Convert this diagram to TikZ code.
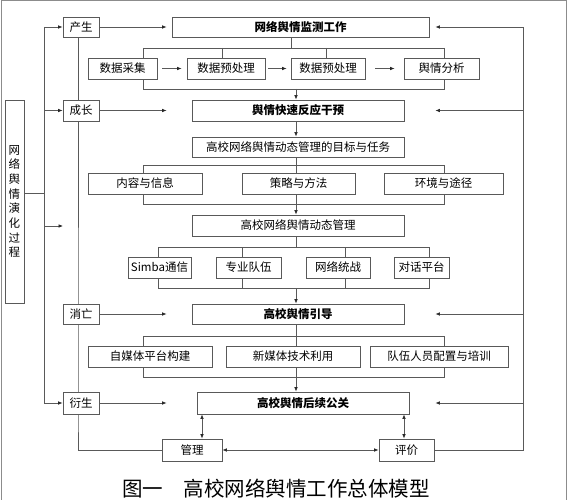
\documentclass[tikz,border=0pt]{standalone}
\usepackage{fontspec}
\setmainfont{Noto Sans CJK SC}
\usetikzlibrary{arrows.meta,backgrounds}
\begin{document}
\begin{tikzpicture}[x=1pt,y=-1pt,
  box/.style={draw=black!65, line width=0.9pt, fill=white, inner sep=0pt, font=\fontsize{11.5}{13}\selectfont},
  bbox/.style={box, font=\fontsize{11.5}{13}\selectfont\bfseries},
  ln/.style={draw=black!65, line width=0.7pt},
  arr/.style={ln, -{Latex[length=4.5pt,width=3.6pt,color=black!85]}},
  darr/.style={ln, {Latex[length=4.5pt,width=3.6pt,color=black!85]}-{Latex[length=4.5pt,width=3.6pt,color=black!85]}},
  frame/.style={draw=black!45, line width=0.8pt}
]
\useasboundingbox (0,0) rectangle (568,500);
% outer frame lines
\coordinate (F1) at (1.5,500);
\coordinate (F2) at (1.5,0.5);
\coordinate (F3) at (566,0.5);
\coordinate (F4) at (566,500);
\draw[frame] (F1) -- (F2) -- (F3) -- (F4);

% left process box
\node[box, minimum width=19pt, minimum height=203pt, align=center,
      font=\fontsize{11.5}{14.7}\selectfont] (lb) at (14.5,201.5)
  {网\\络\\舆\\情\\演\\化\\过\\程};

% stage boxes
\node[box, minimum width=36pt, minimum height=20pt] (chan) at (81,27) {产生};
\node[box, minimum width=36pt, minimum height=21pt] (cz) at (81,110.5) {成长};
\node[box, minimum width=36pt, minimum height=20pt] (xw) at (81,314) {消亡};
\node[box, minimum width=36pt, minimum height=22pt] (ys) at (81,403) {衍生};

% main boxes
\node[bbox, minimum width=257pt, minimum height=20pt] (jc) at (300.5,27) {网络舆情监测工作};
\node[box, minimum width=69pt, minimum height=21pt] (s1) at (122.5,68.5) {数据采集};
\node[box, minimum width=78pt, minimum height=21pt] (s2) at (226,68.5) {数据预处理};
\node[box, minimum width=74pt, minimum height=21pt] (s3) at (328,68.5) {数据预处理};
\node[box, minimum width=75pt, minimum height=21pt] (s4) at (441.5,68.5) {舆情分析};

\node[bbox, minimum width=212pt, minimum height=21pt] (ks) at (298,110.5) {舆情快速反应干预};
\node[box, minimum width=212pt, minimum height=20pt] (mb) at (298,147) {高校网络舆情动态管理的目标与任务};
\node[box, minimum width=114pt, minimum height=21pt] (n1) at (145,183.5) {内容与信息};
\node[box, minimum width=113pt, minimum height=21pt] (n2) at (298.5,183.5) {策略与方法};
\node[box, minimum width=119pt, minimum height=21pt] (n3) at (443.5,183.5) {环境与途径};

\node[box, minimum width=212pt, minimum height=21pt] (dt) at (298,225.5) {高校网络舆情动态管理};
\node[box, minimum width=63pt, minimum height=21pt] (m1) at (159.5,267.5) {Simba通信};
\node[box, minimum width=65pt, minimum height=21pt] (m2) at (248.5,267.5) {专业队伍};
\node[box, minimum width=64pt, minimum height=21pt] (m3) at (338,267.5) {网络统战};
\node[box, minimum width=55pt, minimum height=21pt] (m4) at (421.5,267.5) {对话平台};

\node[bbox, minimum width=212pt, minimum height=20pt] (yd) at (298,314) {高校舆情引导};
\node[box, minimum width=124pt, minimum height=21pt] (p1) at (150,356.5) {自媒体平台构建};
\node[box, minimum width=134pt, minimum height=21pt] (p2) at (293,356.5) {新媒体技术利用};
\node[box, minimum width=138pt, minimum height=21pt] (p3) at (439,356.5) {队伍人员配置与培训};

\node[bbox, minimum width=212pt, minimum height=22pt] (gg) at (303,403) {高校舆情后续公关};
\node[box, minimum width=60pt, minimum height=22pt] (gl) at (192,450) {管理};
\node[box, minimum width=55pt, minimum height=22pt] (pj) at (406.5,450) {评价};

% caption
\node[inner sep=0pt, font=\fontsize{20.5}{22}\selectfont] (cap) at (276,489) {图一\hspace{1em}高校网络舆情工作总体模型};

\begin{pgfonlayer}{background}
% left column
\coordinate (L1) at (44,27);
\coordinate (Lm) at (44,193);
\coordinate (La) at (44,226);
\coordinate (Lt) at (63,226);
\coordinate (L4) at (44,403);
\draw[ln] (lb.east |- Lm) -- (Lm);
\draw[ln] (L1) -- (L4);
\draw[arr] (L1) -- (chan.west);
\draw[arr] (L1 |- cz.west) -- (cz.west);
\draw[arr] (La) -- (Lt);
\draw[arr] (L4) -- (ys.west);

% stage chain line
\coordinate (V) at (78,450);
\draw[ln] (chan.south -| V) -- (ys.south -| V) |- (gl.west);

% stage arrows
\draw[arr, shorten >=5pt] (chan.east) -- (jc.west);
\draw[arr, shorten >=25pt] (cz.east) -- (ks.west);
\draw[arr, shorten >=25pt] (xw.east) -- (yd.west);
\draw[arr, shorten >=30pt] (ys.east) -- (gg.west);

% right column
\coordinate (R1) at (523,27);
\draw[ln] (pj.east) -| (R1);
\draw[arr, shorten >=6pt] (R1) -- (jc.east);
\draw[arr, shorten >=31pt] (R1 |- ks.east) -- (ks.east);
\draw[arr, shorten >=31pt] (R1 |- yd.east) -- (yd.east);
\draw[arr, shorten >=26pt] (R1 |- gg.east) -- (gg.east);

% bottom arrows
\coordinate (X1) at (202,0);
\coordinate (X2) at (404,0);
\draw[darr] (gg.south -| X1) -- (gl.north -| X1);
\draw[darr] (gg.south -| X2) -- (pj.north -| X2);
\draw[darr] (gl.east) -- (pj.west);

% bracket 1
\coordinate (T0) at (291,48);
\coordinate (T1) at (143,48);
\coordinate (T2) at (222,48);
\coordinate (T3) at (326,48);
\coordinate (T4) at (444,48);
\coordinate (B1) at (143,89);
\coordinate (B0) at (296,89);
\coordinate (B4) at (444,89);
\draw[ln] (jc.south -| T0) -- (T0);
\draw[ln] (T1) -- (T4);
\draw[ln] (T1) -- (T1 |- s1.north);
\draw[ln] (T2) -- (T2 |- s2.north);
\draw[ln] (T3) -- (T3 |- s3.north);
\draw[ln] (T4) -- (T4 |- s4.north);
\draw[ln] (B1 |- s1.south) -- (B1) -- (B4) -- (B4 |- s4.south);
\draw[arr] (B0) -- (B0 |- ks.north);
\draw[arr, shorten <=5pt, shorten >=5pt] (s1.east) -- (s2.west);
\draw[arr, shorten <=3pt, shorten >=4pt] (s2.east) -- (s3.west);
\draw[arr, shorten <=10pt, shorten >=9pt] (s3.east) -- (s4.west);

% spine ks -> mb
\draw[arr] (ks.south -| B0) -- (mb.north -| B0);

% bracket 2
\coordinate (C1) at (143,165);
\coordinate (C4) at (444,165);
\coordinate (D1) at (143,204);
\coordinate (D0) at (296,204);
\coordinate (D4) at (444,204);
\draw[ln] (mb.south -| D0) -- (D0);
\draw[ln] (C1 |- n1.north) -- (C1) -- (C4) -- (C4 |- n3.north);
\draw[ln] (D1 |- n1.south) -- (D1) -- (D4) -- (D4 |- n3.south);
\draw[arr] (D0) -- (D0 |- dt.north);

% bracket 3
\coordinate (E1) at (158,247);
\coordinate (E2) at (242,247);
\coordinate (E0) at (296,247);
\coordinate (E3) at (345,247);
\coordinate (E4) at (429,247);
\coordinate (G1) at (158,288);
\coordinate (G0) at (296,288);
\coordinate (G4) at (429,288);
\draw[ln] (dt.south -| E0) -- (E0);
\draw[ln] (E1 |- m1.north) -- (E1) -- (E4) -- (E4 |- m4.north);
\draw[ln] (E2) -- (E2 |- m2.north);
\draw[ln] (E3) -- (E3 |- m3.north);
\draw[ln] (G1 |- m1.south) -- (G1) -- (G4) -- (G4 |- m4.south);
\draw[ln] (E2 |- m2.south) -- (E2 |- G1);
\draw[ln] (E3 |- m3.south) -- (E3 |- G1);
\draw[arr] (G0) -- (G0 |- yd.north);

% bracket 4
\coordinate (H1) at (143,336);
\coordinate (H4) at (444,336);
\coordinate (K1) at (143,377);
\coordinate (K0) at (296,377);
\coordinate (K4) at (444,377);
\draw[ln] (yd.south -| K0) -- (K0);
\draw[ln] (H1 |- p1.north) -- (H1) -- (H4) -- (H4 |- p3.north);
\draw[ln] (K1 |- p1.south) -- (K1) -- (K4) -- (K4 |- p3.south);
\draw[arr] (K0) -- (K0 |- gg.north);
\end{pgfonlayer}
\end{tikzpicture}
\end{document}
